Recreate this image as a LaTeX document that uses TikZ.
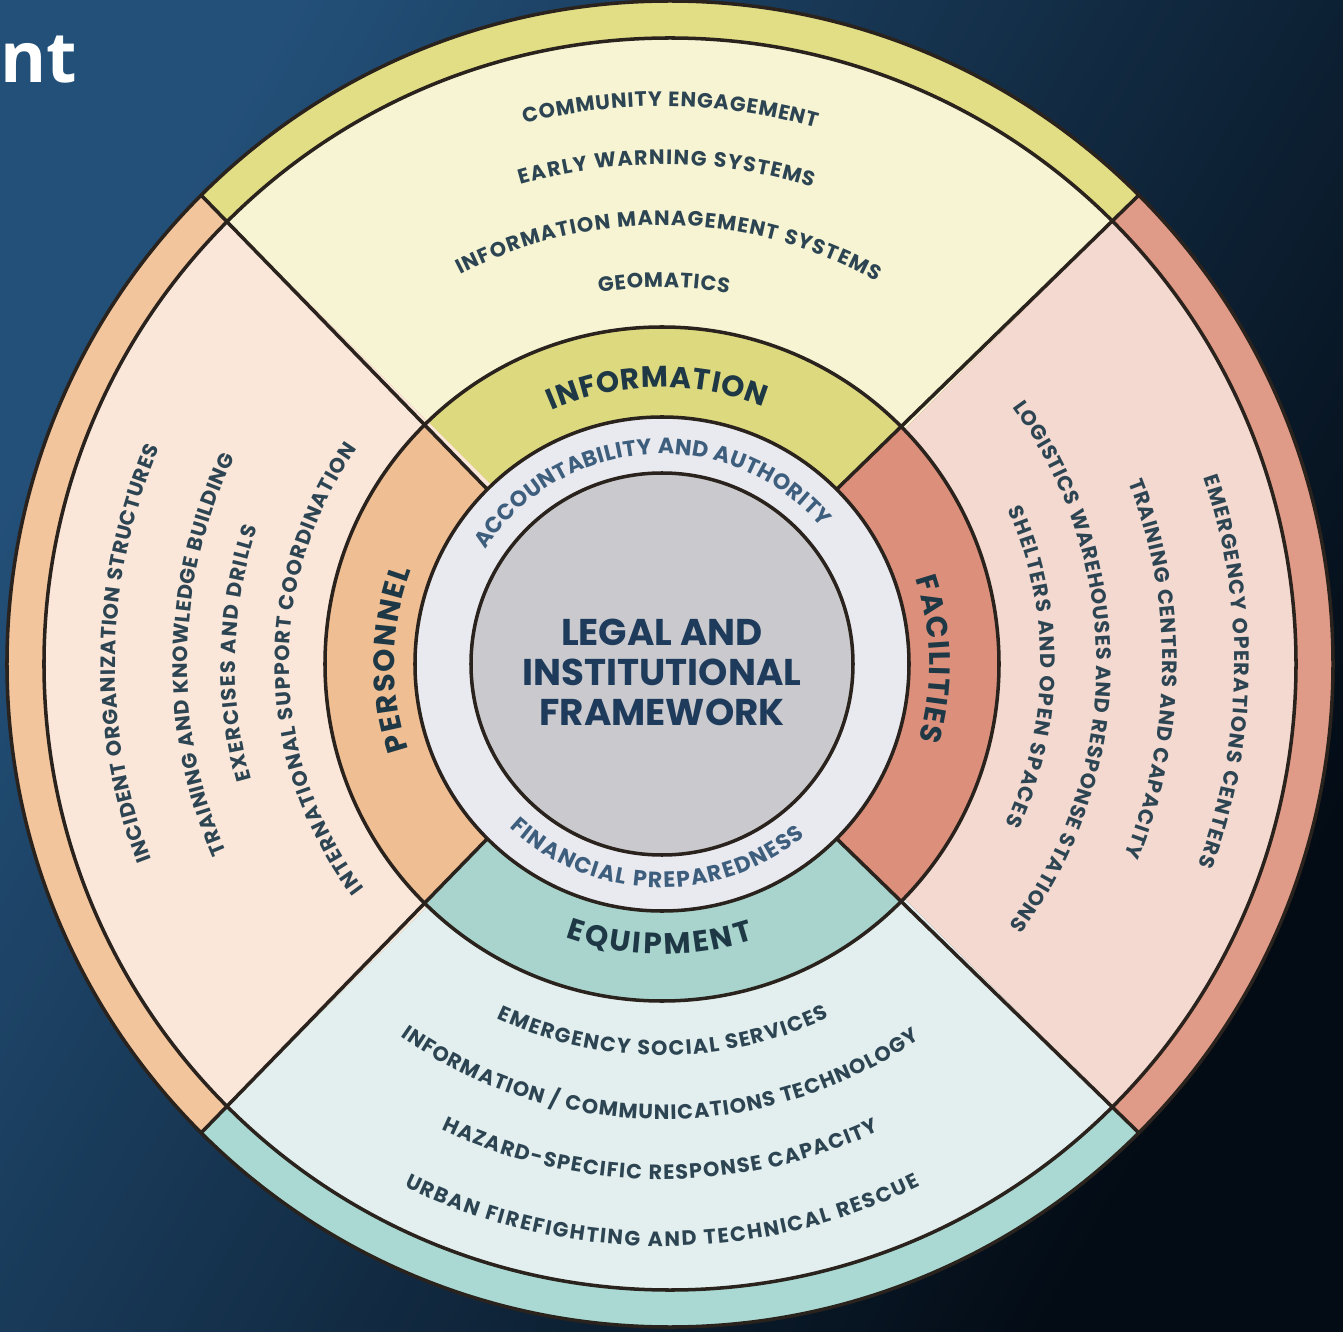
\documentclass[tikz,border=0pt]{standalone}
\usepackage{fontspec}
\setmainfont{Poppins}
\newfontfamily\headfont{Open Sans}
\usetikzlibrary{decorations.text}

\definecolor{bgtop}{HTML}{235079}
\definecolor{bgbot}{HTML}{030B14}
\definecolor{edge}{HTML}{2A221C}
\definecolor{bandY}{HTML}{E2DE86}
\definecolor{fillY}{HTML}{F7F4D3}
\definecolor{ringY}{HTML}{DDD97F}
\definecolor{bandP}{HTML}{F2C59D}
\definecolor{fillP}{HTML}{FAE7DA}
\definecolor{ringP}{HTML}{EFBE93}
\definecolor{bandS}{HTML}{E09B88}
\definecolor{fillS}{HTML}{F3D9CF}
\definecolor{ringS}{HTML}{DC907C}
\definecolor{bandT}{HTML}{AAD9D3}
\definecolor{fillT}{HTML}{E3EFEE}
\definecolor{ringT}{HTML}{A8D4CD}
\definecolor{whitering}{HTML}{E9EAEF}
\definecolor{core}{HTML}{CACACE}
\definecolor{ink}{HTML}{2D4553}
\definecolor{labelink}{HTML}{1E3846}
\definecolor{legalink}{HTML}{1F3B5C}
\definecolor{softink}{HTML}{3E5E7E}

\newcommand{\smallfont}{\bfseries\fontsize{5.9}{7}\selectfont}
\newcommand{\labelfont}{\bfseries\fontsize{8.4}{10}\selectfont}
\newcommand{\pillarfont}{\bfseries\fontsize{6.3}{7}\selectfont}
% text along an arc round the centre: radius, start angle, end angle, style
\newcommand{\arctext}[4]{\path[#4] (#2:#1) arc[start angle=#2, end angle=#3, radius=#1];}

\tikzset{
  rim/.style={draw=edge, line width=1pt},
  itemtext/.style={decorate, decoration={text along path, text align=fit to path,
      raise=-0.073cm, text color=ink, text={|\smallfont|#1}}},
  sectortext/.style={decorate, decoration={text along path, text align=fit to path,
      raise=-0.103cm, text color=labelink, text={|\labelfont|#1}}},
  pillartext/.style={decorate, decoration={text along path, text align=fit to path,
      raise=-0.078cm, text color=softink, text={|\pillarfont|#1}}},
}

\begin{document}
\begin{tikzpicture}
  \useasboundingbox (-6.62,-6.67) rectangle (6.81,6.64);
  \shade[top color=bgtop, bottom color=bgbot, shading angle=60] (-6.62,-6.67) rectangle (6.81,6.64);
  \coordinate (O) at (0,0);
  \coordinate (R) at (0.08,0);

  % the four sectors
  \foreach \a/\bandc/\fillc/\ringc in {45/bandY/fillY/ringY,135/bandP/fillP/ringP,225/bandT/fillT/ringT,-45/bandS/fillS/ringS}{
    \fill[\bandc] (R) -- ([shift={(\a:6.63)}]R) arc[start angle=\a, delta angle=90, radius=6.63] -- cycle;
    \fill[\fillc] (R) -- ([shift={(\a:6.26)}]R) arc[start angle=\a, delta angle=90, radius=6.26] -- cycle;
    \fill[\ringc] (O) -- (\a:3.37) arc[start angle=\a, delta angle=90, radius=3.37] -- cycle;
  }
  \fill[whitering] (O) circle[radius=2.47];
  \fill[core] (O) circle[radius=1.91];

  \draw[rim] (R) circle[radius=6.63] (R) circle[radius=6.26];
  \draw[rim] (O) circle[radius=3.37] (O) circle[radius=2.47] (O) circle[radius=1.91];
  \foreach \a in {45,135,225,315}
    \draw[rim] (\a:2.47) -- ([shift={(\a:6.63)}]R);

  % information
  \arctext{5.65}{104.3}{73.9}{itemtext=COMMUNITY ENGAGEMENT}
  \arctext{5.07}{106.4}{72.4}{itemtext=EARLY WARNING SYSTEMS}
  \arctext{4.46}{117.4}{60.7}{itemtext=INFORMATION MANAGEMENT SYSTEMS}
  \arctext{3.84}{99.6}{79.8}{itemtext=GEOMATICS}
  % personnel
  \arctext{5.54}{201}{156.7}{itemtext=INCIDENT ORGANIZATION STRUCTURES}
  \arctext{4.82}{203.4}{154.1}{itemtext=TRAINING AND KNOWLEDGE BUILDING}
  \arctext{4.34}{195.7}{161.3}{itemtext=EXERCISES AND DRILLS}
  \arctext{3.80}{217}{144.8}{itemtext=INTERNATIONAL SUPPORT COORDINATION}
  % facilities
  \arctext{5.80}{19}{-20.6}{itemtext=EMERGENCY OPERATIONS CENTERS}
  \arctext{5.08}{21.3}{-22.5}{itemtext=TRAINING CENTERS AND CAPACITY}
  \arctext{4.42}{36.2}{-36.9}{itemtext=LOGISTICS WAREHOUSES AND RESPONSE STATIONS}
  \arctext{3.86}{24}{-25}{itemtext=SHELTERS AND OPEN SPACES}
  % equipment
  \arctext{3.84}{245}{295.4}{itemtext=EMERGENCY SOCIAL SERVICES}
  \arctext{4.48}{234.9}{304.5}{itemtext=INFORMATION / COMMUNICATIONS TECHNOLOGY}
  \arctext{5.08}{244.6}{295}{itemtext=HAZARD-SPECIFIC RESPONSE CAPACITY}
  \arctext{5.75}{243.7}{296.3}{itemtext=URBAN FIREFIGHTING AND TECHNICAL RESCUE}

  % sector names
  \arctext{2.87}{113.5}{68.5}{sectortext=INFORMATION}
  \arctext{2.78}{198.5}{159.5}{sectortext=PERSONNEL}
  \arctext{2.78}{18.5}{-16.5}{sectortext=FACILITIES}
  \arctext{2.80}{250.5}{288.5}{sectortext=EQUIPMENT}

  % white ring
  \arctext{2.18}{147.1}{40.6}{pillartext=ACCOUNTABILITY AND AUTHORITY}
  \arctext{2.16}{227}{310}{pillartext=FINANCIAL PREPAREDNESS}

  \node[align=center, text=legalink, font=\bfseries\fontsize{10.6}{11.4}\selectfont] (legal) at (0,-0.08) {LEGAL AND\\INSTITUTIONAL\\FRAMEWORK};
  \node[anchor=base west, inner sep=0pt, text=white, font=\headfont\bfseries\fontsize{20}{24}\selectfont] (title) at (-6.62,5.81) {nt};
\end{tikzpicture}
\end{document}
